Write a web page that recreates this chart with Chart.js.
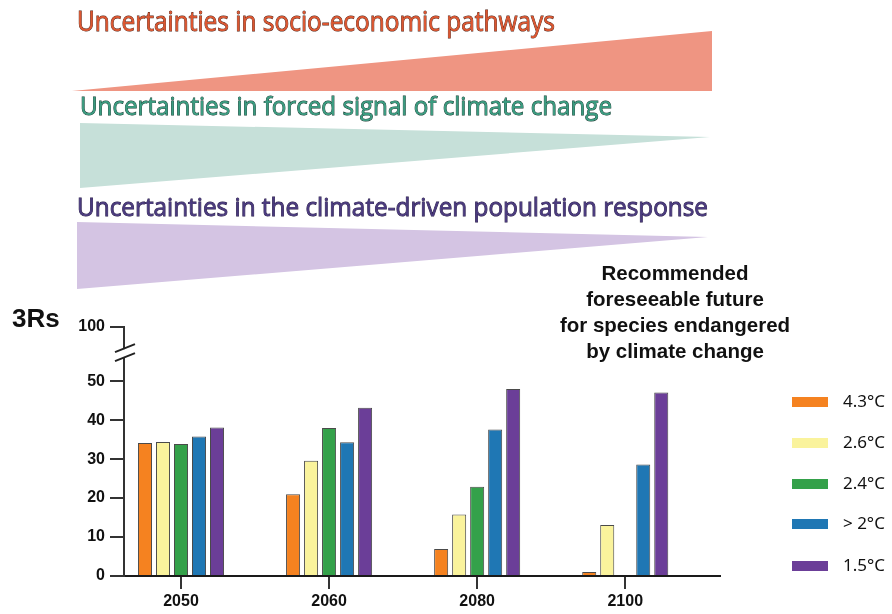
<!DOCTYPE html>
<html>
<head>
<meta charset="utf-8">
<script src="https://cdn.jsdelivr.net/npm/chart.js@4"></script>
<style>
  html, body { margin: 0; padding: 0; background: #fff; }
  #wrap { position: relative; width: 892px; height: 614px; overflow: hidden; }
  #chart { position: absolute; left: 0; top: 0; }
  #top { position: absolute; left: 0; top: 0; }
  .lbl { position: absolute; font-family: "Liberation Sans", Arial, sans-serif; font-weight: bold; color: #111; }
  #legend { position: absolute; left: 0; top: 0; }
  .leg-box { position: absolute; width: 36px; height: 10px; }
  .leg-txt { position: absolute; font-family: "Noto Sans", sans-serif; font-size: 17px; line-height: 20px; color: #111; white-space: nowrap; }
</style>
</head>
<body>
<div id="wrap">
  <canvas id="chart" width="892" height="614"></canvas>
  <svg id="top" width="892" height="300">
    <!-- uncertainty wedges -->
    <polygon points="72,91 712,31 712,91" fill="#ef9582"/>
    <polygon points="80,123 710,137 80,188" fill="#c6e0d9"/>
    <polygon points="77,222 708,237 77,289" fill="#d4c4e3"/>
    <g font-family="Open Sans, sans-serif" font-weight="400" stroke-width="0.9" paint-order="stroke">
      <text x="77" y="31" font-size="28" fill="#dc5630" stroke="#4a1c10" textLength="478" lengthAdjust="spacingAndGlyphs">Uncertainties in socio-economic pathways</text>
      <text x="80" y="115" font-size="26" fill="#3a9c80" stroke="#10342a" textLength="532" lengthAdjust="spacingAndGlyphs">Uncertainties in forced signal of climate change</text>
      <text x="77" y="216" font-size="26" fill="#4a3a7e" stroke="#221640" textLength="631" lengthAdjust="spacingAndGlyphs">Uncertainties in the climate-driven population response</text>
    </g>
  </svg>
  <div class="lbl" style="left:12px; top:305px; font-size:26px; line-height:26px;">3Rs</div>
  <div class="lbl" style="left:525px; width:300px; top:260px; font-size:20.5px; line-height:26px; text-align:center;">Recommended<br>foreseeable future<br>for species endangered<br>by climate change</div>
  <div id="legend"></div>
</div>
<script>
const categories = ['2050', '2060', '2080', '2100'];
const seriesNames = ['4.3°C', '2.6°C', '2.4°C', '> 2°C', '1.5°C'];
const seriesColors = ['#f58220', '#faf39c', '#34a14a', '#1f77b4', '#6b3e98'];
const warm43 = [34.1, 21.0, 6.9, 1.0];
const warm26 = [34.4, 29.6, 15.8, 13.1];
const warm24 = [33.9, 38.0, 22.9, null];
const warm2 = [35.8, 34.3, 37.6, 28.6];
const warm15 = [38.1, 43.2, 48.0, 47.1];
const yTicks = [0, 10, 20, 30, 40, 50, 100];

// axis is broken above 50: the "100" tick sits at this axis position
const BREAK_TOP = 63.9;
const yPos = v => (v > 50 ? BREAK_TOP : v);

const seriesValues = [warm43, warm26, warm24, warm2, warm15];

const axisBreak = {
  id: 'axisBreak',
  afterDraw(chart) {
    const ys = chart.scales.y;
    const ctx = chart.ctx;
    const x0 = chart.chartArea.left;
    const mid = ys.getPixelForValue(57.2);
    ctx.save();
    ctx.fillStyle = '#fff';
    ctx.fillRect(x0 - 3, mid - 4, 6, 8);
    ctx.strokeStyle = '#222';
    ctx.lineWidth = 2;
    ctx.beginPath();
    ctx.moveTo(x0 - 9, mid - 1); ctx.lineTo(x0 + 11, mid - 9);
    ctx.moveTo(x0 - 9, mid + 8); ctx.lineTo(x0 + 11, mid);
    ctx.stroke();
    ctx.restore();
  }
};

const chart = new Chart(document.getElementById('chart'), {
  type: 'bar',
  data: {
    datasets: seriesNames.map((name, i) => ({
      label: name,
      data: seriesValues[i].map((v, j) => ({ x: j, y: v })),
      backgroundColor: seriesColors[i],
      borderColor: '#4a4a4a',
      borderWidth: 1,
      categoryPercentage: 0.608,
      barPercentage: 0.78
    }))
  },
  options: {
    responsive: false,
    animation: false,
    layout: { padding: { top: 327, right: 172, left: 0, bottom: 0 } },
    plugins: { legend: { display: false }, tooltip: { enabled: false } },
    scales: {
      x: {
        type: 'linear',
        min: -0.385,
        max: 3.64,
        offset: false,
        afterBuildTicks: s => { s.ticks = categories.map((c, i) => ({ value: i })); },
        afterFit: s => { s.height = 38; },
        grid: { offset: false, drawOnChartArea: false, drawTicks: true, tickLength: 13, color: '#333', lineWidth: 2 },
        border: { display: true, color: '#1a1a1a', width: 2 },
        ticks: {
          padding: 3,
          color: '#111',
          font: { family: 'Liberation Sans', weight: 'bold', size: 16 },
          callback: v => categories[v] ?? ''
        }
      },
      y: {
        min: 0,
        max: BREAK_TOP,
        afterBuildTicks: s => { s.ticks = yTicks.map(v => ({ value: yPos(v) })); },
        afterFit: s => { s.width = 124; },
        grid: { drawOnChartArea: false, drawTicks: true, tickLength: 14, color: '#333', lineWidth: 2 },
        border: { display: true, color: '#333', width: 2 },
        ticks: {
          padding: 5,
          color: '#111',
          font: { family: 'Liberation Sans', weight: 'bold', size: 16 },
          callback: (v, i) => String(yTicks[i])
        }
      }
    }
  },
  plugins: [axisBreak]
});

// legend built from the chart datasets
const legendRows = [402, 443, 484, 524, 566];
const legendEl = document.getElementById('legend');
chart.data.datasets.forEach((ds, i) => {
  const box = document.createElement('div');
  box.className = 'leg-box';
  box.style.left = '792px';
  box.style.top = (legendRows[i] - 5) + 'px';
  box.style.background = ds.backgroundColor;
  legendEl.appendChild(box);
  const txt = document.createElement('div');
  txt.className = 'leg-txt';
  txt.style.left = '843px';
  txt.style.top = (legendRows[i] - 11) + 'px';
  txt.textContent = ds.label;
  legendEl.appendChild(txt);
});
</script>
</body>
</html>
